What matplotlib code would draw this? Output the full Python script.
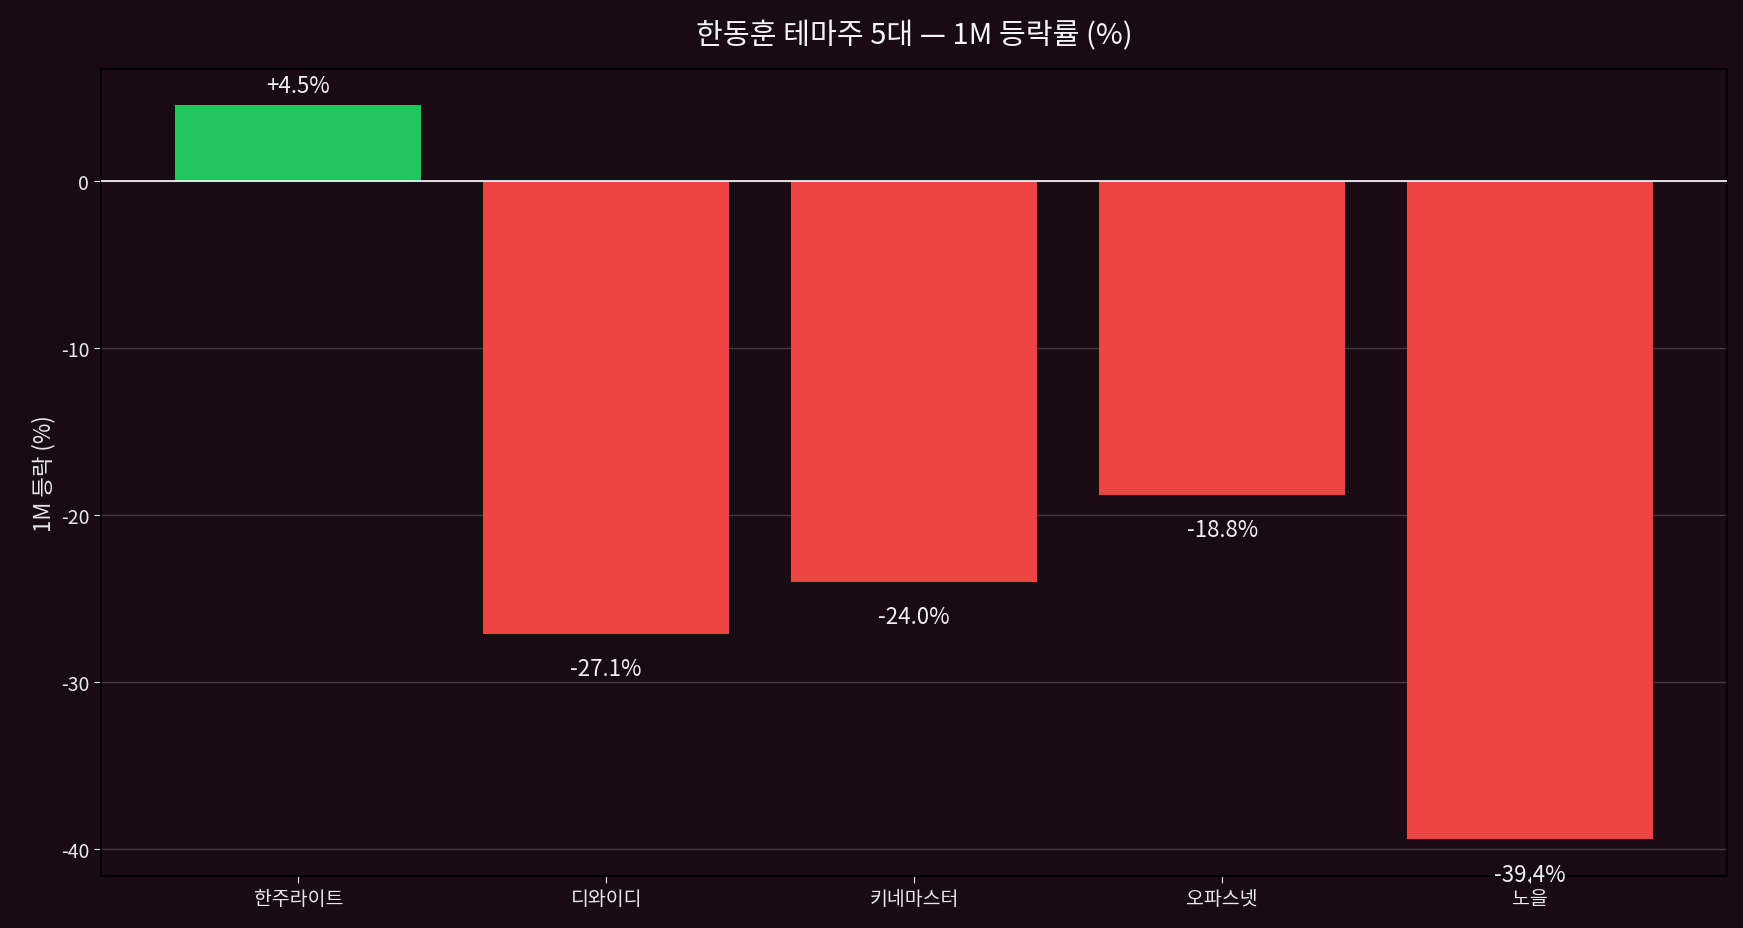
import numpy as np
import matplotlib
matplotlib.use("Agg")
import matplotlib.pyplot as plt

plt.rcParams['font.family'] = ['Noto Sans CJK KR', 'DejaVu Sans']
plt.rcParams['axes.unicode_minus'] = False

names = ["한주라이트", "디와이디", "키네마스터", "오파스넷", "노을"]
changes = [4.5, -27.1, -24.0, -18.8, -39.4]

bg = "#190b14"
colors = ["#22c55e" if v >= 0 else "#ef4444" for v in changes]

fig, ax = plt.subplots(figsize=(17.43, 9.29), dpi=100)
fig.patch.set_facecolor(bg)
ax.set_facecolor(bg)

x = np.arange(len(names))
ax.bar(x, changes, width=0.8, color=colors, zorder=3)
ax.axhline(0, color="#ffffff", linewidth=1.2, zorder=4)

for xi, v in zip(x, changes):
    if v >= 0:
        ax.text(xi, v + 0.5, f"+{v:.1f}%", ha="center", va="bottom",
                color="#f0f0f0", fontsize=16, zorder=5)
    else:
        ax.text(xi, v - 1.4, f"{v:.1f}%", ha="center", va="top",
                color="#f0f0f0", fontsize=16, zorder=5)

ax.set_xticks(x)
ax.set_xticklabels(names)
ax.set_yticks([-40, -30, -20, -10, 0])
ax.yaxis.grid(True, color="#ffffff", alpha=0.2, linewidth=1, zorder=0)
ax.tick_params(colors="#e8e8e8", labelsize=14, length=5)
for s in ax.spines.values():
    s.set_color("#000000")
    s.set_linewidth(1.5)

ax.set_ylabel("1M 등락 (%)", color="#e8e8e8", fontsize=16)
ax.set_title("한동훈 테마주 5대 — 1M 등락률 (%)", color="#f5f5f5", fontsize=21, pad=18)

fig.subplots_adjust(left=0.058, right=0.991, top=0.925, bottom=0.056)
fig.savefig("out.png", facecolor=bg)
